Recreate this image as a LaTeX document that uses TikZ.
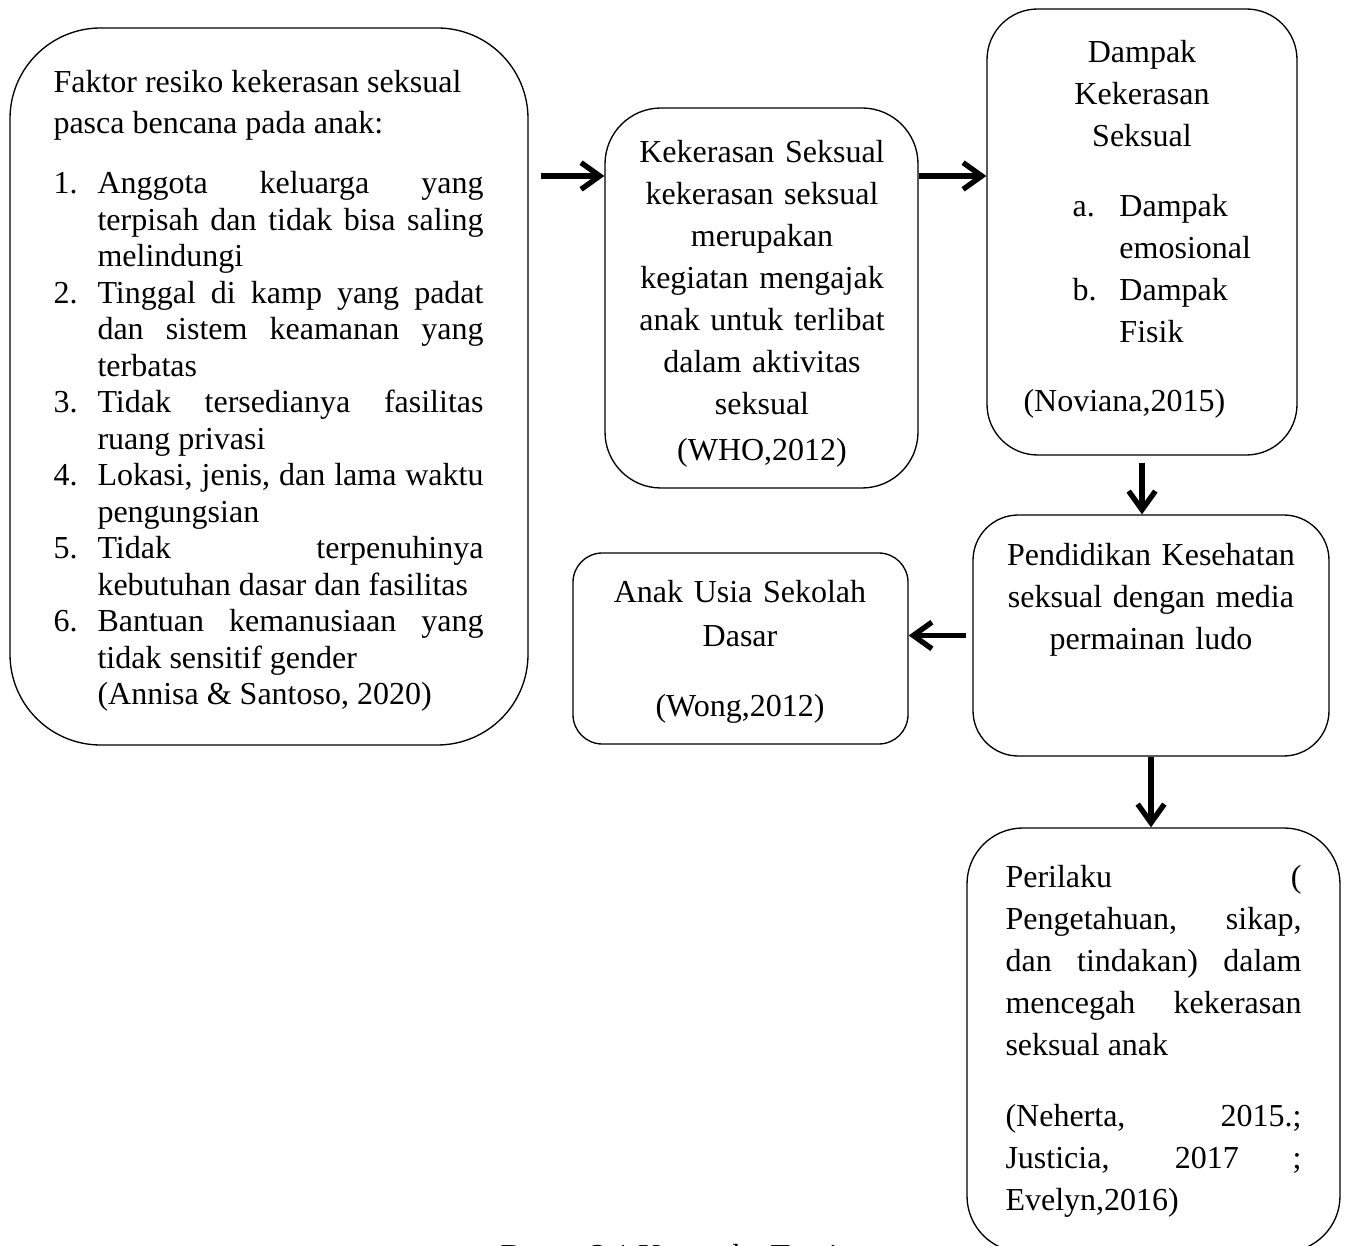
\documentclass[tikz,border=0pt]{standalone}
\usepackage{fontspec}
\setmainfont{Liberation Serif}
\usetikzlibrary{arrows.meta,fit}
\tolerance=10000
\hbadness=10000
\hyphenpenalty=10000
\exhyphenpenalty=10000
\adjdemerits=0
\newcommand{\butir}[2][16.5pt]{\hangindent=#1\hangafter=1\makebox[#1][l]{#2}\ignorespaces}
\tikzset{
  kotak/.style={draw, line width=0.5pt, rounded corners=#1, inner sep=0pt},
  teks/.style={inner sep=0pt, font=\fontsize{12pt}{15.75pt}\selectfont},
  panah/.style={line width=2pt, -{Straight Barb[length=7pt,width=10pt]}},
}
\begin{document}
\begin{tikzpicture}[x=0.375pt, y=-0.375pt]
\useasboundingbox (0,0) rectangle (1345,1246);

\node[kotak=34pt, fit={(10,28) (528,745)}] (faktor) {};
\node[kotak=21pt, fit={(605,108) (918,488)}] (kekerasan) {};
\node[kotak=19pt, fit={(987,9) (1297,455)}] (dampak) {};
\node[kotak=17pt, fit={(973,515) (1329,756)}] (pendidikan) {};
\node[kotak=11pt, fit={(573,553) (908,744)}] (anak) {};
\node[kotak=21pt, fit={(967,828) (1340,1252)}] (perilaku) {};

\node[teks, text width=161.25pt, align=justify, anchor=base west,
  font=\fontsize{12pt}{13.7pt}\selectfont] (faktorteks) at (53,93) {%
Faktor resiko kekerasan seksual\\[1.5pt] pasca bencana pada anak:\par\vspace{8.8pt}
\butir{1.}Anggota keluarga yang\linebreak terpisah dan tidak bisa saling\linebreak melindungi\par
\butir{2.}Tinggal di kamp yang padat\linebreak dan sistem keamanan yang\linebreak terbatas\par
\butir{3.}Tidak tersedianya fasilitas\linebreak ruang privasi\par
\butir{4.}Lokasi, jenis, dan lama waktu\linebreak pengungsian\par
\butir{5.}Tidak terpenuhinya\linebreak kebutuhan dasar dan fasilitas\par
\butir{6.}Bantuan kemanusiaan yang\linebreak tidak sensitif gender\newline (Annisa \& Santoso, 2020)\par};

\node[teks, text width=110pt, align=center, anchor=base] (kekerasanteks) at (762,163)
  {Kekerasan Seksual\\ kekerasan seksual\\ merupakan\\ kegiatan mengajak\\ anak untuk terlibat\\ dalam aktivitas\\ seksual\\[1.5pt] (WHO,2012)};

\node[teks, text width=100pt, align=center, anchor=base] (dampakjudul) at (1142,63) {Dampak\\ Kekerasan\\ Seksual};
\node[teks, text width=70pt, align=left, anchor=base west] (dampakisi) at (1072,217)
  {\butir[17.6pt]{a.}Dampak\newline emosional\par\butir[17.6pt]{b.}Dampak\newline Fisik\par};
\node[teks, anchor=base west] (dampaksumber) at (1023,412) {(Noviana,2015)};

\node[teks, text width=125pt, align=center, anchor=base] (pendidikanteks) at (1151,566)
  {Pendidikan Kesehatan\\ seksual dengan media\\ permainan ludo};

\node[teks, text width=115pt, align=center, anchor=base] (anakteks) at (740,603)
  {Anak Usia Sekolah\\[0.4pt] Dasar\\[10.5pt] (Wong,2012)};

\node[teks, text width=111pt, align=justify, anchor=base west] (perilakuteks) at (1005,887) {%
Perilaku (\linebreak Pengetahuan, sikap,\linebreak dan tindakan) dalam\linebreak mencegah kekerasan\linebreak seksual anak\par\vspace{11pt}
(Neherta, 2015.;\linebreak Justicia, 2017 ;\linebreak Evelyn,2016)\par};

\node[teks, anchor=base west] (judul) at (500,1266) {Bagan 3.1 Kerangka Teori};

\coordinate (baris) at (0,176);
\draw[panah, shorten <=4.5pt] (faktor.east |- baris) -- (kekerasan.west |- baris);
\draw[panah] (kekerasan.east |- baris) -- (dampak.west |- baris);
\draw[panah, shorten <=2.6pt] (dampak.south) -- (pendidikan.north -| dampak.south);
\draw[panah, shorten <=2.2pt] (pendidikan.west) -- (anak.east |- pendidikan.west);
\draw[panah] (pendidikan.south) -- (perilaku.north -| pendidikan.south);
\end{tikzpicture}
\end{document}
